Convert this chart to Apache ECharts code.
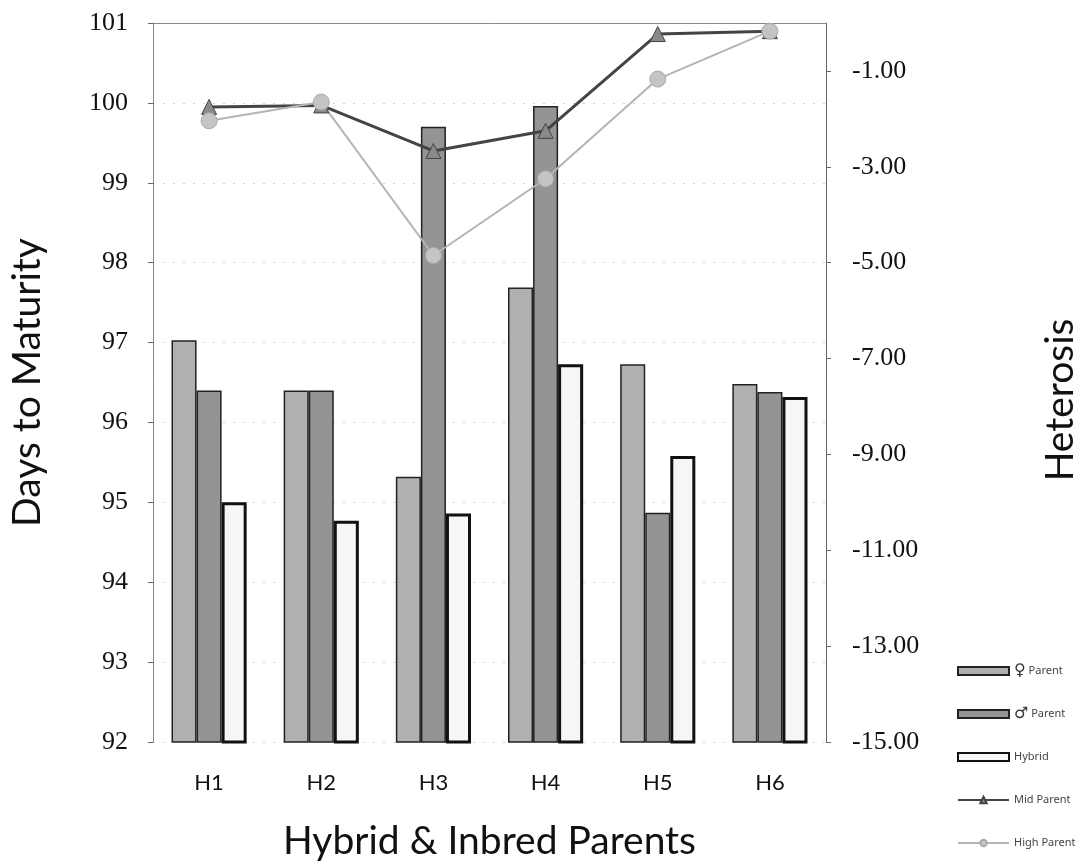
<!DOCTYPE html>
<html><head><meta charset="utf-8">
<script src="https://cdn.jsdelivr.net/npm/echarts@6/dist/echarts.min.js"></script>
<style>html,body{margin:0;padding:0;background:#fff}#c{width:1087px;height:867px}</style>
</head><body><div id="c"></div>
<script>
const categories = ['H1','H2','H3','H4','H5','H6'];
const femaleParent = [97.03, 96.40, 95.32, 97.69, 96.73, 96.48];
const maleParent   = [96.40, 96.40, 99.70, 99.96, 94.87, 96.38];
const hybrid       = [95.00, 94.77, 94.86, 96.73, 95.58, 96.32];
const midParent    = [-1.75, -1.72, -2.67, -2.25, -0.23, -0.17];
const highParent   = [-2.04, -1.65, -4.85, -3.25, -1.17, -0.17];
const seriesNames  = ['\u2640 Parent','\u2642 Parent','Hybrid','Mid Parent','High Parent'];
const rightAxisTitle = 'Heterosis';

const chart = echarts.init(document.getElementById('c'));
const serif = 'Liberation Serif';
const sans = 'Lato';
chart.setOption({
  animation: false,
  backgroundColor: '#fff',
  grid: { left: 148, right: 261, top: 23, bottom: 125 },
  graphic: [{
    type: 'text', x: 1060, y: 400, rotation: Math.PI / 2,
    style: { text: rightAxisTitle, font: '39px Lato', fill: '#111', align: 'center', verticalAlign: 'middle' }
  }],
  legend: {
    orient: 'vertical', left: 952, top: 658,
    itemWidth: 51, itemHeight: 8, itemGap: 27,
    textStyle: { fontFamily: 'Noto Sans', fontSize: 11, color: '#444', lineHeight: 16,
      rich: { sym: { fontFamily: 'DejaVu Sans', fontSize: 16, color: '#333', lineHeight: 16 } } },
    formatter: function (n) {
      if (n.charAt(0) === '\u2640' || n.charAt(0) === '\u2642') {
        return '{sym|' + n.charAt(0) + '}' + n.slice(1);
      }
      return n;
    },
    data: [
      { name: seriesNames[0], icon: 'rect' },
      { name: seriesNames[1], icon: 'rect' },
      { name: seriesNames[2], icon: 'rect' },
      { name: seriesNames[3] },
      { name: seriesNames[4] }
    ]
  },
  xAxis: {
    type: 'category', data: categories,
    name: 'Hybrid & Inbred Parents', nameLocation: 'middle', nameGap: 80,
    nameTextStyle: { fontFamily: sans, fontSize: 39, color: '#111' },
    axisLine: { lineStyle: { color: '#888', width: 1 } },
    axisTick: { lineStyle: { color: '#666' }, length: 6 },
    axisLabel: { fontFamily: sans, fontSize: 22, color: '#111', margin: 30 }
  },
  yAxis: [{
    type: 'value', min: 92, max: 101, interval: 1,
    name: 'Days to Maturity', nameLocation: 'middle', nameGap: 106, nameRotate: 90,
    nameTextStyle: { fontFamily: sans, fontSize: 39, color: '#111' },
    axisLine: { show: true, lineStyle: { color: '#888' } },
    axisTick: { show: true, length: 5, lineStyle: { color: '#666' } },
    axisLabel: { fontFamily: serif, fontSize: 26, color: '#111', margin: 25 },
    splitLine: { show: true, lineStyle: { color: '#d2d2d2', type: [2, 8] } }
  }, {
    type: 'value', min: -15, max: 0, interval: 2,
    axisLine: { show: true, lineStyle: { color: '#666' } },
    axisTick: { show: true, length: 5, lineStyle: { color: '#666' } },
    axisLabel: { fontFamily: serif, fontSize: 26, color: '#111', margin: 26, showMaxLabel: false,
      formatter: v => v.toFixed(2) },
    splitLine: { show: false }
  }],
  series: [
    { name: seriesNames[0], type: 'bar', data: femaleParent, barGap: '0%', barCategoryGap: '33%',
      itemStyle: { color: '#b0b0b0', borderColor: '#222', borderWidth: 1.5 } },
    { name: seriesNames[1], type: 'bar', data: maleParent, barGap: '0%', barCategoryGap: '33%',
      itemStyle: { color: '#949494', borderColor: '#222', borderWidth: 1.5 } },
    { name: seriesNames[2], type: 'bar', data: hybrid, barGap: '0%', barCategoryGap: '33%',
      itemStyle: { color: '#f6f6f6', borderColor: '#111', borderWidth: 3 } },
    { name: seriesNames[3], type: 'line', yAxisIndex: 1, data: midParent,
      symbol: 'triangle', symbolSize: 15,
      lineStyle: { color: '#444', width: 3 },
      itemStyle: { color: '#8a8a8a', borderColor: '#444', borderWidth: 1 } },
    { name: seriesNames[4], type: 'line', yAxisIndex: 1, data: highParent,
      symbol: 'circle', symbolSize: 16,
      lineStyle: { color: '#b4b4b4', width: 2 },
      itemStyle: { color: '#c4c4c4', borderColor: '#aaa', borderWidth: 1 } }
  ]
});
</script></body></html>
